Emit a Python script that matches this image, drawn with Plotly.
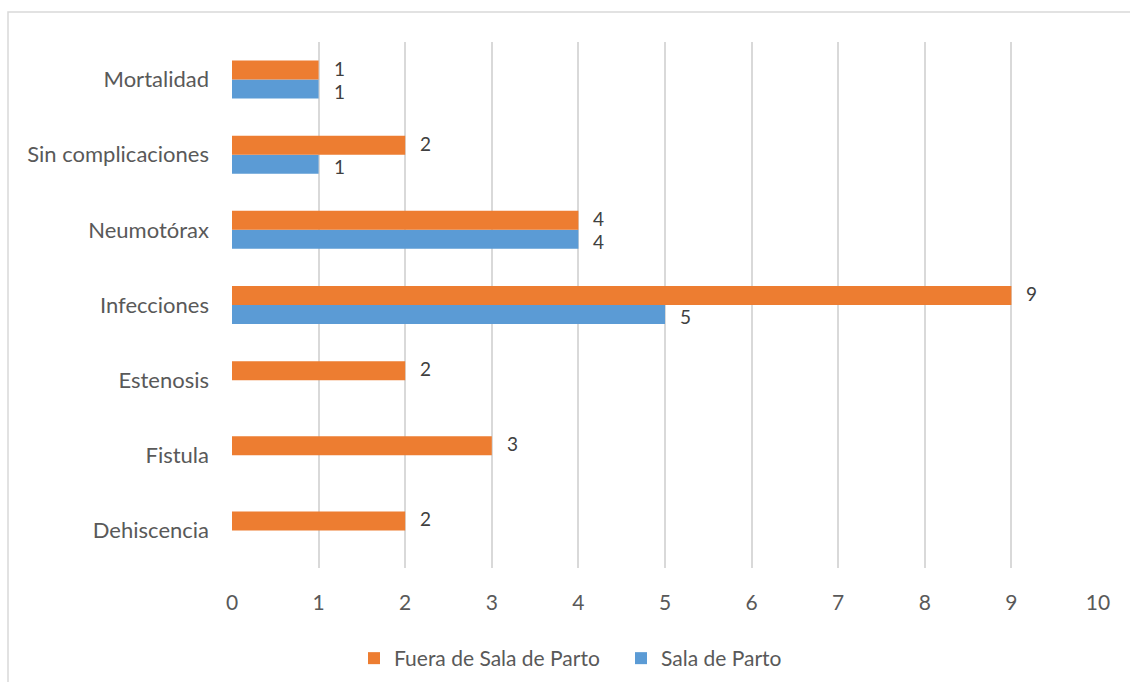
import plotly.graph_objects as go

categories = ["Dehiscencia", "Fistula", "Estenosis", "Infecciones",
              "Neumotórax", "Sin complicaciones", "Mortalidad"]
fuera_sala = [2, 3, 2, 9, 4, 2, 1]
sala_parto = [None, None, None, 5, 4, 1, 1]
x_ticks = list(range(0, 11))

ORANGE = "#ED7D31"
BLUE = "#5B9BD5"
GRID = "#D9D9D9"
TXT = "#595959"
FONT = "Lato, 'Open Sans', sans-serif"

W, H = 1130, 682
L, R, T, B = 232, 32, 42, 114
pw, ph = W - L - R, H - T - B


def px_x(px):
    return (px - L) / pw


def px_y(py):
    return (H - B - py) / ph


fig = go.Figure()
fig.add_trace(go.Bar(y=categories, x=sala_parto, orientation="h", name="Sala de Parto",
                     marker=dict(color=BLUE, line=dict(width=0))))
fig.add_trace(go.Bar(y=categories, x=fuera_sala, orientation="h", name="Fuera de Sala de Parto",
                     marker=dict(color=ORANGE, line=dict(width=0))))

# value labels beside each bar end
bar_h = 0.253
for vals, off, nudge in ((sala_parto, -bar_h / 2, -2), (fuera_sala, bar_h / 2, 2)):
    for i, v in enumerate(vals):
        if v is None:
            continue
        fig.add_annotation(x=v, y=i + off, text=str(v), showarrow=False,
                           xanchor="left", xshift=14, yshift=nudge, borderpad=0,
                           font=dict(family=FONT, size=19, color="#404040"))

# outer chart border
fig.add_shape(type="rect", xref="paper", yref="paper",
              x0=px_x(8), x1=px_x(1150), y0=px_y(700), y1=px_y(12),
              line=dict(color=GRID, width=1.5), layer="below")

fig.update_layout(
    width=W, height=H,
    margin=dict(l=L, r=R, t=T, b=B),
    paper_bgcolor="white", plot_bgcolor="white",
    barmode="group", bargap=0.494, bargroupgap=0,
    font=dict(family=FONT, size=21, color=TXT),
    xaxis=dict(range=[0, 10], tickvals=x_ticks, showgrid=True, gridcolor=GRID, gridwidth=1.5,
               zeroline=False, showline=False, ticks="", ticklabelstandoff=20,
               tickfont=dict(size=21, color=TXT)),
    yaxis=dict(categoryorder="array", categoryarray=categories, showgrid=False,
               zeroline=False, showline=False, ticks="", ticklabelstandoff=22,
               tickfont=dict(size=22, color=TXT)),
    legend=dict(orientation="h", traceorder="reversed", xref="container", yref="container",
                x=354 / W, xanchor="left", y=1 - 638 / H, yanchor="top",
                font=dict(size=21, color=TXT), itemwidth=30, entrywidth=222),
    showlegend=True,
)

fig.write_html("out.html")
